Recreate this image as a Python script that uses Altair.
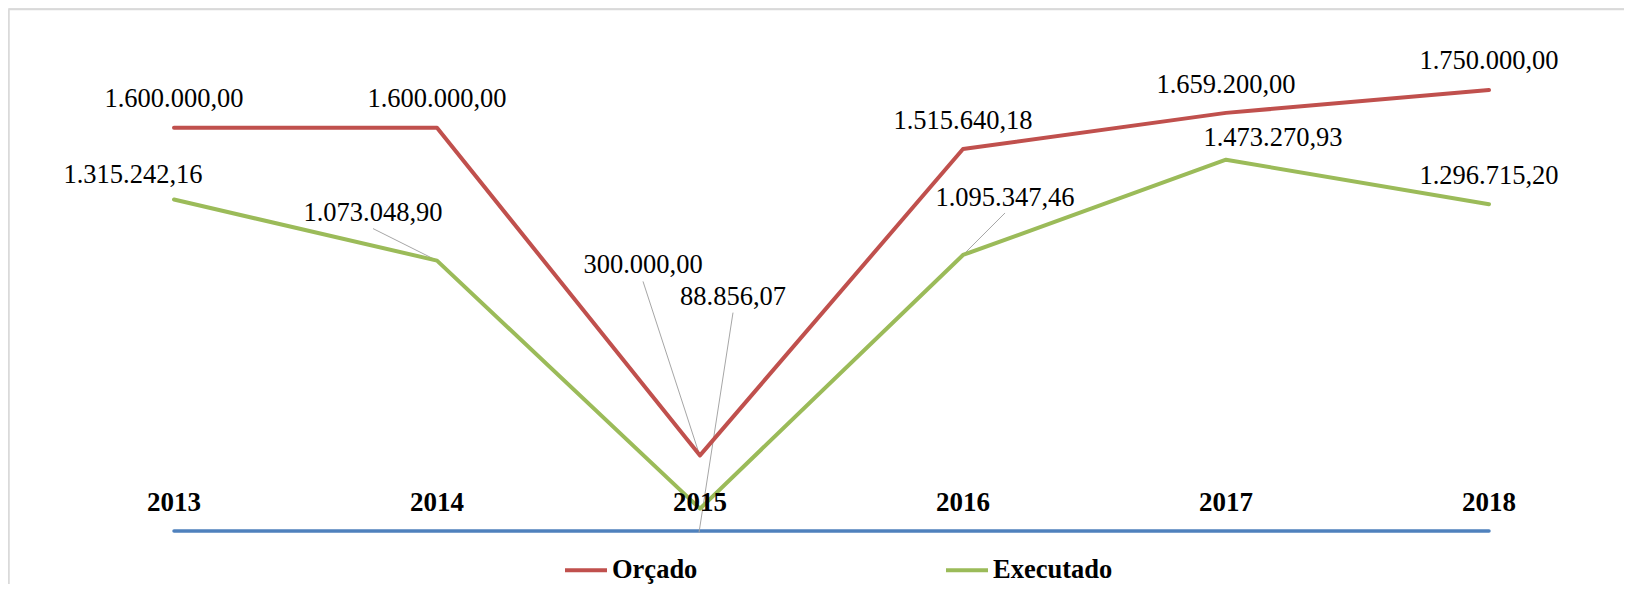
import altair as alt
import pandas as pd

# ---------------- data ----------------
years = [2013, 2014, 2015, 2016, 2017, 2018]
orcado = [1600000.00, 1600000.00, 300000.00, 1515640.18, 1659200.00, 1750000.00]
executado = [1315242.16, 1073048.90, 88856.07, 1095347.46, 1473270.93, 1296715.20]
eixo = [0, 0, 0, 0, 0, 0]  # blue base series
series_names = ["Orçado", "Executado"]
series_colors = ["#c0504d", "#9bbb59"]

# ---------------- layout (pixels) ----------------
W, H = 1616, 576
PX_PER_YEAR = 263.0
PX_PER_UNIT = 2.52e-4
X0 = 2013 - 166.0 / PX_PER_YEAR
X1 = X0 + W / PX_PER_YEAR
Y0 = (523.0 - H) / PX_PER_UNIT
Y1 = 523.0 / PX_PER_UNIT

label_dx = {"Orçado": [0, 0, -57, 0, 0, 0], "Executado": [-41, -64, 33, 42, 47, 0]}
label_dy = {"Orçado": [-21, -21, -182, -20, -20, -21], "Executado": [-17, -40, -204, -49, -14, -20]}
leaders = {
    ("Orçado", 2015): (-57, -174, 0, 1),
    ("Executado", 2014): (-64, -32, 0, 0),
    ("Executado", 2015): (33, -196, -1, 24),
    ("Executado", 2016): (42, -42, 0, 0),
}


def fmt_br(v):
    s = f"{v:,.2f}"
    return s.replace(",", "X").replace(".", ",").replace("X", ".")


rows = []
for name, vals in zip(series_names, [orcado, executado]):
    for i, (yr, v) in enumerate(zip(years, vals)):
        rows.append({
            "ano": yr, "valor": v, "serie": name, "rotulo": fmt_br(v),
            "lx": yr + label_dx[name][i] / PX_PER_YEAR,
            "ly": v - label_dy[name][i] / PX_PER_UNIT,
        })
df = pd.DataFrame(rows)

lead_rows = []
for (name, yr), (sx, sy, ex, ey) in leaders.items():
    vals = orcado if name == "Orçado" else executado
    v = vals[years.index(yr)]
    lead_rows.append({
        "x": yr + sx / PX_PER_YEAR, "y": v - sy / PX_PER_UNIT,
        "x2": yr + ex / PX_PER_YEAR, "y2": v - ey / PX_PER_UNIT,
    })
df_lead = pd.DataFrame(lead_rows)

df_axis = pd.DataFrame({"ano": years, "valor": eixo})

xs = alt.Scale(domain=[X0, X1], nice=False, zero=False)
ys = alt.Scale(domain=[Y0, Y1], nice=False, zero=False)

FONT = "Liberation Serif"

base_line = alt.Chart(df_axis).mark_line(
    color="#4f81bd", strokeWidth=3.5, strokeCap="round"
).encode(
    x=alt.X("ano:Q", scale=xs, axis=None),
    y=alt.Y("valor:Q", scale=ys, axis=None),
)

year_labels = alt.Chart(df_axis).mark_text(
    font=FONT, fontSize=27, fontWeight="bold", color="black",
    align="center", baseline="alphabetic", dy=-20,
).encode(
    x=alt.X("ano:Q", scale=xs, axis=None),
    y=alt.Y("valor:Q", scale=ys, axis=None),
    text=alt.Text("ano:N"),
)

lines = alt.Chart(df).mark_line(
    strokeWidth=4, strokeCap="round", strokeJoin="round"
).encode(
    x=alt.X("ano:Q", scale=xs, axis=None),
    y=alt.Y("valor:Q", scale=ys, axis=None),
    color=alt.Color(
        "serie:N",
        scale=alt.Scale(domain=series_names, range=series_colors),
        sort=series_names,
        legend=alt.Legend(
            orient="none", legendX=555, legendY=539, direction="horizontal",
            title=None, symbolType="stroke", symbolStrokeWidth=4,
            symbolSize=1764, labelFont=FONT, labelFontSize=26.5,
            labelFontWeight="bold", labelColor="black", labelOffset=3,
            columnPadding=240, labelLimit=400,
        ),
    ),
    order=alt.Order("ano:Q"),
)

leader_lines = alt.Chart(df_lead).mark_rule(color="#a6a6a6", strokeWidth=1).encode(
    x=alt.X("x:Q", scale=xs, axis=None),
    y=alt.Y("y:Q", scale=ys, axis=None),
    x2="x2:Q",
    y2="y2:Q",
)

labels = alt.Chart(df).mark_text(
    font=FONT, fontSize=26.5, color="black", align="center", baseline="alphabetic"
).encode(
    x=alt.X("lx:Q", scale=xs, axis=None),
    y=alt.Y("ly:Q", scale=ys, axis=None),
    text="rotulo:N",
)

one = pd.DataFrame({"a": [0]})
frame_left = alt.Chart(one).mark_rule(color="#d9d9d9", strokeWidth=1.5).encode(
    x=alt.value(1), y=alt.value(1.5), y2=alt.value(H)
)
frame_top = alt.Chart(one).mark_rule(color="#d9d9d9", strokeWidth=1.5).encode(
    x=alt.value(1), x2=alt.value(W), y=alt.value(1.5)
)

chart = alt.layer(
    frame_left, frame_top, base_line, leader_lines, lines, year_labels, labels
).properties(
    width=W, height=H, padding=0, autosize=alt.AutoSizeParams(type="none")
).configure_view(stroke=None).configure(background="white")

chart.save("out.html", embed_options={"renderer": "svg", "actions": False})
